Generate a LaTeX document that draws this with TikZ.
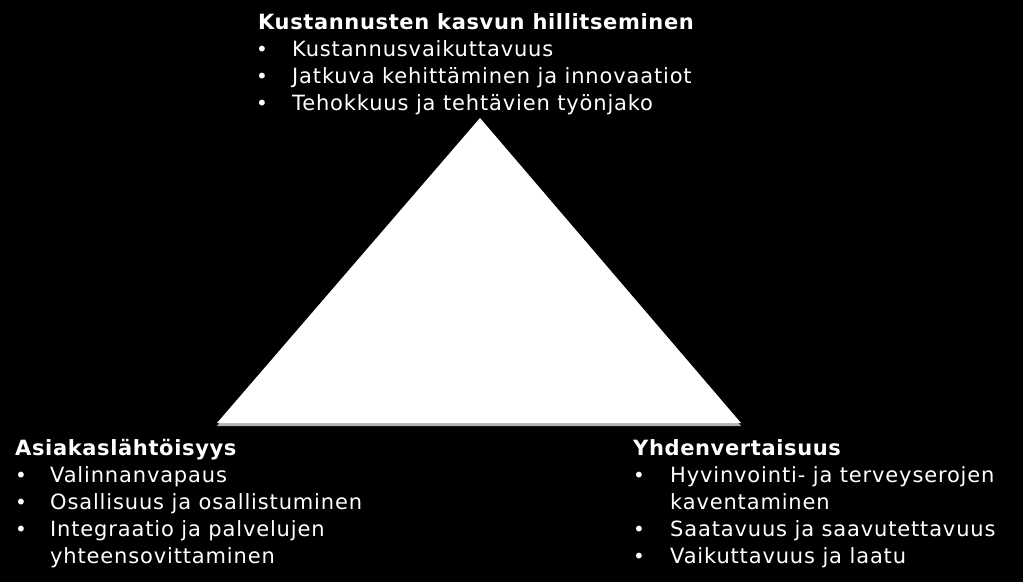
\documentclass[tikz,border=0pt]{standalone}
\usepackage{fontspec}
\setmainfont{DejaVu Sans}
\newfontfamily\regfont[LetterSpace=4]{DejaVu Sans}
\newfontfamily\boldfont[LetterSpace=3]{DejaVu Sans Bold}
\begin{document}
\begin{tikzpicture}[x=1pt,y=-1pt,
  txt/.style={text=white,inner sep=0pt,anchor=base west,font=\fontsize{21}{24}\regfont},
  ttl/.style={txt,font=\fontsize{21}{24}\boldfont},
  bul/.style={txt,font=\fontsize{20}{24}\selectfont}]
\useasboundingbox[fill=black] (0,0) rectangle (1023,582);
% triangle with faint shadow
\fill[gray!60] (480,120) -- (741,426) -- (217,426) -- cycle;
\fill[white] (480,118) -- (741,423) -- (217,423) -- cycle;
% top block
\node[ttl] (t0) at (258,29) {Kustannusten kasvun hillitseminen};
\node[bul] (tb1) at (256,56) {•};
\node[txt] (t1) at (292,56) {Kustannusvaikuttavuus};
\node[bul] (tb2) at (256,83) {•};
\node[txt] (t2) at (292,83) {Jatkuva kehittäminen ja innovaatiot};
\node[bul] (tb3) at (256,110) {•};
\node[txt] (t3) at (292,110) {Tehokkuus ja tehtävien työnjako};
% left block
\node[ttl] (l0) at (15,455) {Asiakaslähtöisyys};
\node[bul] (lb1) at (15,482) {•};
\node[txt] (l1) at (50,482) {Valinnanvapaus};
\node[bul] (lb2) at (15,509) {•};
\node[txt] (l2) at (50,509) {Osallisuus ja osallistuminen};
\node[bul] (lb3) at (15,536) {•};
\node[txt] (l3) at (50,536) {Integraatio ja palvelujen};
\node[txt] (l4) at (50,563) {yhteensovittaminen};
% right block
\node[ttl] (r0) at (633,455) {Yhdenvertaisuus};
\node[bul] (rb1) at (633,482) {•};
\node[txt] (r1) at (670,482) {Hyvinvointi- ja terveyserojen};
\node[txt] (r2) at (670,509) {kaventaminen};
\node[bul] (rb2) at (633,536) {•};
\node[txt] (r3) at (670,536) {Saatavuus ja saavutettavuus};
\node[bul] (rb3) at (633,563) {•};
\node[txt] (r4) at (670,563) {Vaikuttavuus ja laatu};
\end{tikzpicture}
\end{document}
